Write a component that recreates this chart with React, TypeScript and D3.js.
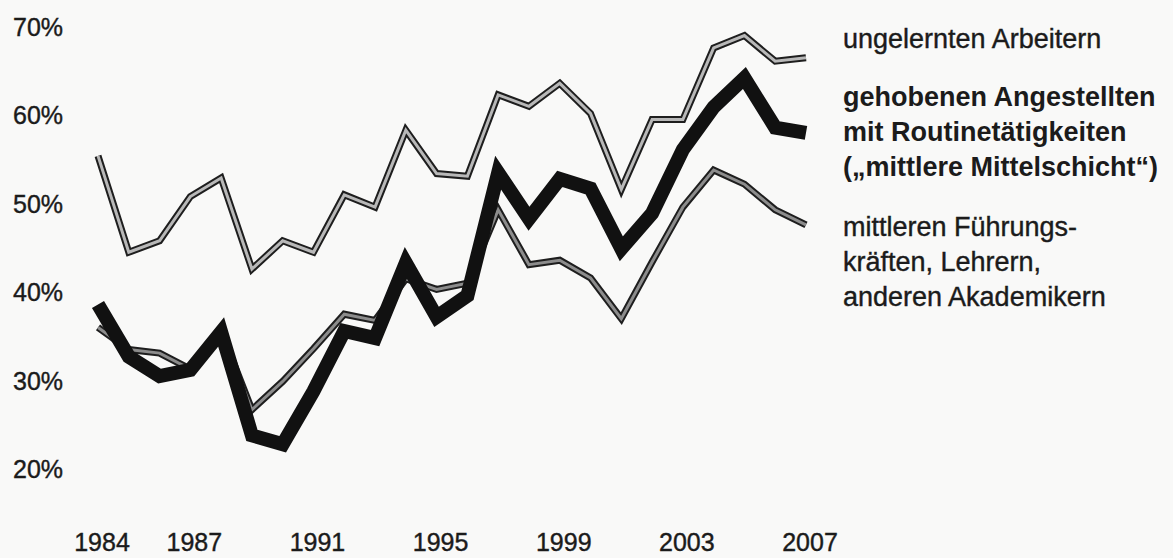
import React from "react";
import * as d3 from "d3";

const years: number[] = d3.range(1984, 2008);

const unskilled: number[] = [
  55.4, 44.5, 45.8, 50.8, 52.9, 42.6, 45.8, 44.5, 51.0, 49.6, 58.3, 53.4,
  53.1, 62.3, 61.0, 63.6, 60.2, 51.6, 59.5, 59.5, 67.6, 69.0, 66.1, 66.5,
];

const routineClerks: number[] = [
  38.6, 32.7, 30.5, 31.2, 35.5, 23.8, 22.8, 28.8, 35.6, 34.8, 43.3, 37.2,
  39.6, 53.5, 48.3, 52.8, 51.7, 44.9, 48.9, 56.1, 60.9, 64.2, 58.6, 58.0,
];

const managers: number[] = [
  36.0, 33.5, 33.1, 31.3, 35.6, 26.7, 29.9, 33.6, 37.5, 36.8, 41.5, 40.3,
  41.0, 49.3, 43.1, 43.6, 41.6, 37.0, 43.4, 49.6, 53.8, 52.2, 49.3, 47.6,
];

const yTicks: number[] = [20, 30, 40, 50, 60, 70];
const xTickYears: number[] = [1984, 1987, 1991, 1995, 1999, 2003, 2007];

const legendUnskilled: string[] = ["ungelernten Arbeitern"];
const legendRoutine: string[] = [
  "gehobenen Angestellten",
  "mit Routinetätigkeiten",
  "(„mittlere Mittelschicht“)",
];
const legendManagers: string[] = [
  "mittleren Führungs-",
  "kräften, Lehrern,",
  "anderen Akademikern",
];

const W = 1173;
const H = 558;
const FONT = "'Liberation Sans', Arial, Helvetica, sans-serif";

export default function App() {
  const x = d3.scaleLinear().domain([1984, 2007]).range([98, 806]);
  const y = d3.scaleLinear().domain([20, 70]).range([469, 26.7]);

  const mk = (vals: number[]) =>
    d3
      .line<number>()
      .x((_, i) => x(years[i]))
      .y((d) => y(d))(vals) || "";

  const pUnskilled = mk(unskilled);
  const pRoutine = mk(routineClerks);
  const pManagers = mk(managers);

  const textColor = "#1b1b1b";

  return (
    <svg
      width={W}
      height={H}
      style={{ position: "absolute", left: 0, top: 0, background: "#f9f9f8" }}
    >
      <rect x={0} y={0} width={W} height={H} fill="#f9f9f8" />
      <g fontFamily={FONT} fontSize={25} fill={textColor} stroke={textColor} strokeWidth={0.4}>
        {yTicks.map((t) => (
          <text key={t} x={13} y={y(t)} dy="0.36em">
            {t}%
          </text>
        ))}
        {xTickYears.map((yr) => (
          <text key={yr} x={x(yr) + 4} y={551} textAnchor="middle">
            {yr}
          </text>
        ))}
      </g>

      {/* top line: unskilled workers */}
      <path d={pUnskilled} fill="none" stroke="#1e1e1e" strokeWidth={7} strokeLinejoin="miter" />
      <path d={pUnskilled} fill="none" stroke="#b8b8b8" strokeWidth={3} strokeLinejoin="miter" />

      {/* lower line: managers */}
      <path d={pManagers} fill="none" stroke="#1e1e1e" strokeWidth={7} strokeLinejoin="miter" />
      <path d={pManagers} fill="none" stroke="#8c8c8c" strokeWidth={3} strokeLinejoin="miter" />

      {/* thick line: routine clerks */}
      <path d={pRoutine} fill="none" stroke="#111" strokeWidth={14} strokeLinejoin="miter" />

      <g fontFamily={FONT} fontSize={27} fill={textColor}>
        {legendUnskilled.map((s, i) => (
          <text key={s} x={843} y={48 + i * 35} stroke={textColor} strokeWidth={0.4}>
            {s}
          </text>
        ))}
        {legendRoutine.map((s, i) => (
          <text key={s} x={843} y={106 + i * 35} fontWeight="bold">
            {s}
          </text>
        ))}
        {legendManagers.map((s, i) => (
          <text key={s} x={843} y={236 + i * 35} stroke={textColor} strokeWidth={0.4}>
            {s}
          </text>
        ))}
      </g>
    </svg>
  );
}
